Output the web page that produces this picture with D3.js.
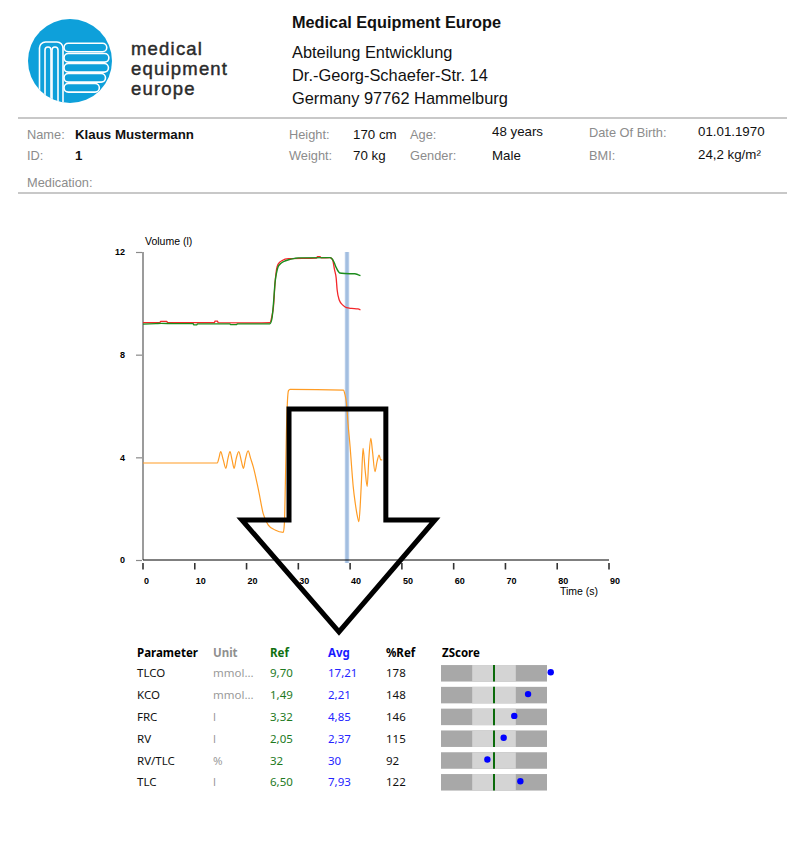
<!DOCTYPE html>
<html><head><meta charset="utf-8">
<script src="https://cdn.jsdelivr.net/npm/d3@7"></script>
<style>
html,body{margin:0;padding:0;background:#fff;}
svg{display:block;}
</style></head>
<body>
<svg id="c" width="787" height="859"></svg>
<script>
// ---------------- DATA ----------------
const timeTicks = [0,10,20,30,40,50,60,70,80,90];
const volumeTicks = [0,4,8,12];
const markerTime = 39.4;

// volume curves: [time (s), volume (l)]
const greenCurve = [[0,9.19],[2.5,9.21],[3.5,9.22],[6,9.21],[9.7,9.21],[9.8,9.16],[10.4,9.16],[10.5,9.2],[16.8,9.2],[16.9,9.17],[18.1,9.17],[18.2,9.2],[24.5,9.2],[24.9,9.4],[25.2,10.0],[25.5,10.8],[25.8,11.2],[26.1,11.43],[26.6,11.55],[27.1,11.62],[28.4,11.71],[29.3,11.75],[30,11.77],[36.1,11.78],[36.5,11.74],[36.9,11.6],[37.3,11.4],[37.7,11.25],[38.0,11.18],[39.0,11.16],[40.9,11.15],[41.5,11.12],[42.0,11.08]];
const redCurve = [[0,9.25],[3.3,9.26],[3.4,9.3],[4.6,9.3],[4.7,9.26],[9,9.25],[13.8,9.25],[13.9,9.31],[14.4,9.31],[14.5,9.25],[20,9.24],[24.5,9.25],[24.9,9.5],[25.2,9.87],[25.5,10.78],[25.9,11.43],[26.4,11.6],[26.8,11.66],[28.1,11.74],[33.5,11.76],[33.7,11.82],[34.2,11.82],[34.4,11.77],[36.1,11.78],[36.6,11.7],[37.0,11.3],[37.3,11.0],[37.5,10.52],[37.9,10.13],[38.6,9.93],[39.3,9.83],[40.3,9.80],[41.5,9.78],[42.0,9.74]];
const orangeCurve = [[0,3.78],[14.35,3.78],[14.7,4.0],[15.0,4.22],[15.5,3.9],[16.0,3.57],[16.4,3.95],[16.8,4.22],[17.2,3.9],[17.6,3.57],[18.0,3.95],[18.5,4.22],[19.0,3.85],[19.4,3.57],[19.8,3.95],[20.3,4.25],[20.8,3.95],[21.3,3.63],[22.3,2.73],[23.2,1.82],[24.2,1.36],[25.5,1.17],[27.1,1.08],[27.3,1.4],[27.5,3.0],[27.7,5.0],[27.9,6.2],[28.1,6.6],[28.4,6.65],[38.7,6.62],[39.0,6.45],[39.3,6.1],[39.6,5.3],[40.0,4.41],[40.3,3.6],[40.6,2.86],[41.0,2.2],[41.3,1.82],[41.7,1.49],[42.0,2.3],[42.2,3.12],[42.5,4.35],[42.9,3.5],[43.3,2.86],[43.6,3.9],[44.0,4.74],[44.3,4.28],[44.8,3.44],[45.2,3.83],[45.6,4.09],[45.9,3.9],[46.2,3.9]];

// annotation arrow, in chart units [time, volume]
const arrowOutline = [[28.2,5.88],[46.9,5.88],[46.9,1.56],[56.4,1.56],[37.85,-2.8],[19.1,1.56],[28.2,1.56]];

// results table
const tableHeaders = ["Parameter","Unit","Ref","Avg","%Ref","ZScore"];
const params = ["TLCO","KCO","FRC","RV","RV/TLC","TLC"];
const units = ["mmol...","mmol...","l","l","%","l"];
const refVals = ["9,70","1,49","3,32","2,05","32","6,50"];
const avgVals = ["17,21","2,21","4,85","2,37","30","7,93"];
const pctRef = ["178","148","146","115","92","122"];
const zScores = [4.28,2.57,1.53,0.73,-0.50,1.99];
const zRange = [-4,4];
const zNormal = [-1.645,1.645];

// header texts
const companyLines = ["Abteilung Entwicklung","Dr.-Georg-Schaefer-Str. 14","Germany 97762 Hammelburg"];
const logoWords = ["medical","equipment","europe"];

// ---------------- DRAW ----------------
const svg = d3.select("#c");
svg.append("rect").attr("width",787).attr("height",859).attr("fill","#fff");

const ARIAL = "'Liberation Sans', Arial, sans-serif";

// ---- logo ----
const logo = svg.append("g");
const cx=70, cy=61, R=42;
svg.append("defs").append("clipPath").attr("id","lc").append("circle").attr("cx",cx).attr("cy",cy).attr("r",R);
logo.append("circle").attr("cx",cx).attr("cy",cy).attr("r",R).attr("fill","#0ea0da");
const lg = logo.append("g").attr("clip-path","url(#lc)").attr("fill","none").attr("stroke","#fff").attr("stroke-width",1.6);
lg.append("path").attr("d","M39.5,110 V48 A6,6 0 0 1 45.5,42 H57 A6,6 0 0 1 63,48 V110");
lg.append("path").attr("d","M45,110 V50 A3,3 0 0 1 51,50 V110");
lg.append("path").attr("d","M52,110 V50 A3,3 0 0 1 58,50 V110");
[47.5,57.8,67.8,77.8,87.8].forEach((yc,i)=>{
  const half = Math.sqrt(R*R-(yc-cy)*(yc-cy));
  const x1 = 64, x2 = cx+half-3;
  lg.append("rect").attr("x",x1).attr("y",yc-4.3).attr("width",x2-x1).attr("height",8.6).attr("rx",4.3);
});
logoWords.forEach((w,i)=>{
  svg.append("text").attr("x",131).attr("y",54.5+i*20.3).text(w)
    .attr("font-family",ARIAL).attr("font-size",18.5).attr("letter-spacing",1.2)
    .attr("fill","#2b2b2b").attr("stroke","#2b2b2b").attr("stroke-width",0.45);
});

svg.append("text").attr("x",292).attr("y",28).text("Medical Equipment Europe")
  .attr("font-family",ARIAL).attr("font-weight","bold").attr("font-size",16.3).attr("fill","#111");
companyLines.forEach((t,i)=>{
  svg.append("text").attr("x",292).attr("y",57.5+i*23).text(t)
    .attr("font-family",ARIAL).attr("font-size",16.4).attr("fill","#111");
});

// separators
[118,193].forEach(y=>svg.append("line").attr("x1",18).attr("x2",787).attr("y1",y).attr("y2",y).attr("stroke","#c8c8c8").attr("stroke-width",2));

// patient info
const info = [
  {x:27, y:139, t:"Name:", lab:true},{x:75, y:139, t:"Klaus Mustermann", bold:true},
  {x:27, y:160, t:"ID:", lab:true},{x:75, y:160, t:"1", bold:true},
  {x:27, y:187, t:"Medication:", lab:true},
  {x:289, y:139, t:"Height:", lab:true},{x:353, y:139, t:"170 cm"},
  {x:289, y:160, t:"Weight:", lab:true},{x:353, y:160, t:"70 kg"},
  {x:410, y:139, t:"Age:", lab:true},{x:492, y:136, t:"48 years"},
  {x:410, y:160, t:"Gender:", lab:true},{x:492, y:160, t:"Male"},
  {x:589, y:137, t:"Date Of Birth:", lab:true},{x:698, y:136, t:"01.01.1970"},
  {x:589, y:160, t:"BMI:", lab:true},{x:698, y:159, t:"24,2 kg/m²"}
];
info.forEach(d=>{
  svg.append("text").attr("x",d.x).attr("y",d.y).text(d.t)
    .attr("font-family",ARIAL).attr("font-size",d.lab?12.8:13.3)
    .attr("font-weight",d.bold?"bold":"normal")
    .attr("fill",d.lab?"#8c8c8c":"#111");
});

// ---- chart ----
const x = d3.scaleLinear().domain([0,90]).range([143,609]);
const y = d3.scaleLinear().domain([0,12]).range([560,252]);

// marker band
svg.append("rect").attr("x",x(markerTime)-2.2).attr("width",4.4)
  .attr("y",y(12)).attr("height",y(0)-y(12)+3).attr("fill","#b6cce8");
svg.append("line").attr("x1",x(markerTime)).attr("x2",x(markerTime))
  .attr("y1",y(12)).attr("y2",y(0)+3).attr("stroke","#8fb0d8").attr("stroke-width",1);

// y axis
svg.append("line").attr("x1",x(0)).attr("x2",x(0)).attr("y1",y(12)).attr("y2",y(0)).attr("stroke","#7a7a7a").attr("stroke-width",1.5);
const yAxis = d3.axisLeft(y).tickValues(volumeTicks).tickSize(6).tickPadding(11).tickFormat(d3.format("d"));
const gy = svg.append("g").attr("transform",`translate(${x(0)-1},0)`).call(yAxis);
gy.select(".domain").remove();
gy.selectAll(".tick line").attr("stroke","#8a8a8a").attr("stroke-width",1.2);
gy.selectAll(".tick text").attr("font-family",ARIAL).attr("font-weight","bold").attr("font-size",9).attr("fill","#000");
svg.append("text").attr("x",145).attr("y",245).text("Volume (l)")
  .attr("font-family",ARIAL).attr("font-size",10.5).attr("fill","#000");

// x axis
svg.append("line").attr("x1",x(0)).attr("x2",x(90)).attr("y1",y(0)).attr("y2",y(0)).attr("stroke","#000").attr("stroke-width",1);
const gx = svg.append("g").attr("transform",`translate(0,${y(0)+3})`);
timeTicks.forEach(t=>{
  gx.append("line").attr("x1",x(t)).attr("x2",x(t)).attr("y1",0).attr("y2",6.5).attr("stroke","#333").attr("stroke-width",1.6);
  gx.append("text").attr("x",x(t)+1).attr("y",21).text(t)
    .attr("font-family",ARIAL).attr("font-weight","bold").attr("font-size",9).attr("fill","#000");
});
svg.append("text").attr("x",598).attr("y",595).attr("text-anchor","end").text("Time (s)")
  .attr("font-family",ARIAL).attr("font-size",10.5).attr("fill","#000");

// curves
const line = d3.line().x(d=>x(d[0])).y(d=>y(d[1])).curve(d3.curveMonotoneX);
svg.append("path").attr("d",line(orangeCurve)).attr("fill","none").attr("stroke","#ff9c24").attr("stroke-width",1.2);
svg.append("path").attr("d",line(redCurve)).attr("fill","none").attr("stroke","#f4262a").attr("stroke-width",1.3);
svg.append("path").attr("d",line(greenCurve)).attr("fill","none").attr("stroke","#1c8c1c").attr("stroke-width",1.4);

// arrow annotation
const straight = d3.line().x(d=>x(d[0])).y(d=>y(d[1]));
svg.append("path").attr("d",straight(arrowOutline)+"Z").attr("fill","none").attr("stroke","#000").attr("stroke-width",5).attr("stroke-linejoin","miter");

// ---- table ----
const TF = "'Segoe UI','Noto Sans','Open Sans',sans-serif";
const colX = [137,213,270,328,386,442];
const headColors = ["#000","#8f8f8f","#107010","#1a1aff","#000","#000"];
const rowY = d3.scalePoint().domain(params).range([673.3,782.3]);
const headY = 652.7;
tableHeaders.forEach((h,i)=>{
  svg.append("text").attr("x",colX[i]).attr("y",headY).attr("dy","0.35em").text(h)
    .attr("font-family",TF).attr("font-weight","bold").attr("font-size",11.5).attr("fill",headColors[i]);
});
const cols = [params,units,refVals,avgVals,pctRef];
const colColors = ["#111","#9a9a9a","#1e7a1e","#2424ff","#111"];
params.forEach((p,r)=>{
  cols.forEach((arr,c)=>{
    svg.append("text").attr("x",colX[c]).attr("y",rowY(p)).attr("dy","0.35em").text(arr[r])
      .attr("font-family",TF).attr("font-size",11.5).attr("fill",colColors[c]);
  });
});
const z = d3.scaleLinear().domain(zRange).range([441,547]);
params.forEach((p,r)=>{
  const yc = rowY(p), h=16.5;
  svg.append("rect").attr("x",z(zRange[0])).attr("width",z(zRange[1])-z(zRange[0])).attr("y",yc-h/2).attr("height",h).attr("fill","#a8a8a8");
  svg.append("rect").attr("x",z(zNormal[0])).attr("width",z(zNormal[1])-z(zNormal[0])).attr("y",yc-h/2).attr("height",h).attr("fill","#d4d4d4");
  svg.append("line").attr("x1",z(0)).attr("x2",z(0)).attr("y1",yc-h/2).attr("y2",yc+h/2).attr("stroke","#0b6b0b").attr("stroke-width",2);
  svg.append("circle").attr("cx",z(zScores[r])).attr("cy",yc-1).attr("r",3.2).attr("fill","#0000ff");
});
</script>
</body></html>
